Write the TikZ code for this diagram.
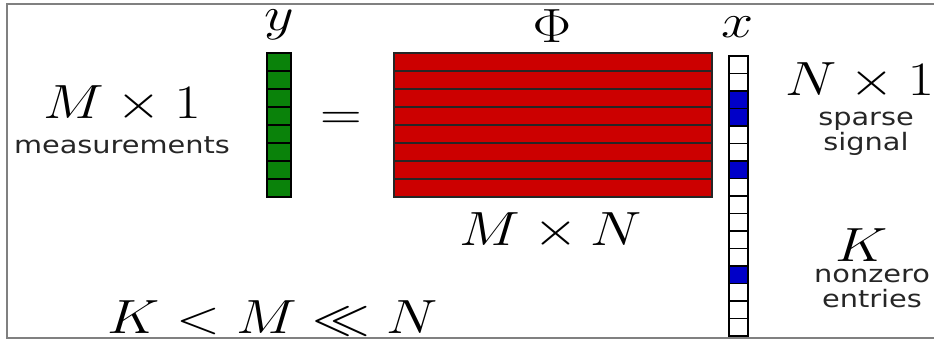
\documentclass[tikz,border=0pt]{standalone}
\usepackage{fontspec}
\newfontfamily\notefont{DejaVu Sans}
\usetikzlibrary{positioning}
\definecolor{ygreen}{RGB}{10,130,10}
\definecolor{phired}{RGB}{204,0,0}
\definecolor{xblue}{RGB}{0,0,200}

\begin{document}
\begin{tikzpicture}[
    x=1pt, y=-1pt,
    cell/.style={
      rectangle, draw=black, line width=1.6pt, inner sep=0pt
    },
    ycell/.style={cell, fill=ygreen, minimum width=24pt, minimum height=18pt},
    row/.style={cell, draw=black!85, fill=phired, minimum width=318pt, minimum height=18pt},
    xcell/.style={cell, minimum width=19pt, minimum height=17.5pt},
    mathlbl/.style={
      inner sep=0pt, font=\Huge, anchor=base,
      xscale=2.32, yscale=1.93, transform shape
    },
    note/.style={
      inner sep=0pt, align=center, text=black!85, anchor=base,
      font=\notefont\fontsize{24}{25}\selectfont,
      xscale=1.2, transform shape
    },
  ]
  \useasboundingbox (0,0) rectangle (934,341);

  % frame (open on the right)
  \draw[gray, line width=2pt] (934,4) -- (7,4) -- (7,338) -- (934,338);

  % measurement vector y
  \foreach \i in {0,...,7}
    \node[ycell] (y\i) at (279,62+18*\i) {};

  % sensing matrix Phi
  \foreach \i in {0,...,7}
    \node[row] (r\i) at (553,62+18*\i) {};

  % sparse signal x (blue = nonzero)
  \foreach \i/\c in {0/white,1/white,2/xblue,3/xblue,4/white,5/white,6/xblue,7/white,
                     8/white,9/white,10/white,11/white,12/xblue,13/white,14/white,15/white}
    \node[xcell, fill=\c] (x\i) at (738.5,64.75+17.5*\i) {};

  % names above the blocks
  \node[mathlbl] (ylbl)   at (279,30) {$y$};
  \node[mathlbl] (philbl) at (552,42) {$\Phi$};
  \node[mathlbl] (xlbl)   at (738,37) {$x$};

  \node[mathlbl] (eq) at (341,129) {$=$};

  % sizes and notes (base = last line)
  \node[mathlbl] (ysize)   at (122,118) {$M\times 1$};
  \node[note]    (ynote)   at (122,153) {measurements};
  \node[mathlbl] (phisize) at (551,245) {$M\times N$};
  \node[mathlbl] (xsize)   at (860,95)  {$N\times 1$};
  \node[note]    (xnote)   at (866,150) {sparse\\signal};
  \node[mathlbl] (klbl)    at (862,261) {$K$};
  \node[note]    (knote)   at (872,307) {nonzero\\entries};

  \node[mathlbl] (order) at (273,333) {$K < M \ll N$};

\end{tikzpicture}
\end{document}
